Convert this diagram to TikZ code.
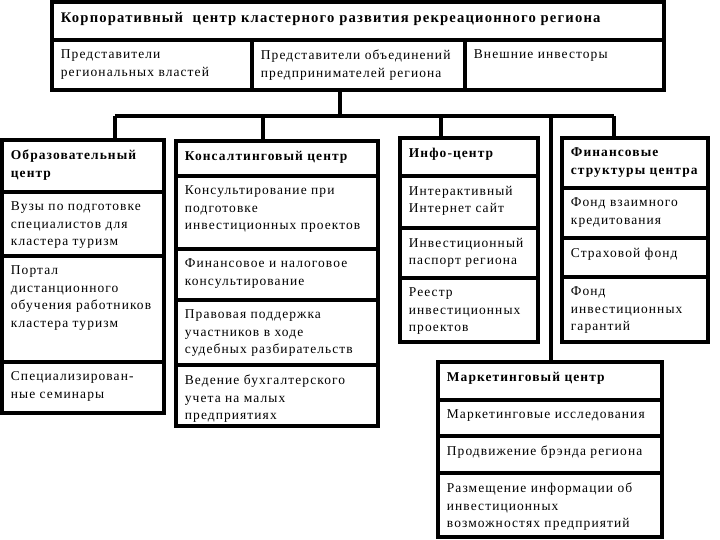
\documentclass[tikz,border=0pt]{standalone}
\usepackage{fontspec}
\setmainfont{Liberation Serif}[LetterSpace=8]
\usetikzlibrary{positioning,calc,fit}

\begin{document}
\begin{tikzpicture}[
  x=0.03cm,y=-0.03cm,
  box/.style={draw,line width=3.2pt,inner sep=0pt},
  txt/.style={anchor=north west,align=left,inner xsep=9pt,inner ysep=10pt,
    font=\fontsize{11.5}{14.9}\selectfont},
  hd/.style={txt,font=\fontsize{11.5}{14.9}\selectfont\bfseries},
  wire/.style={line width=3pt}
]
\useasboundingbox (0,0) rectangle (720,540);

% ---------------- top: corporate centre ----------------
\node[box,fit={(52,2) (664,40)}] (corp) {};
\node[box,fit={(52,40) (252,90)}] (gov) {};
\node[box,fit={(252,40) (465,90)}] (biz) {};
\node[box,fit={(465,40) (664,90)}] (inv) {};

\node[hd,font=\fontsize{12.5}{15}\selectfont\bfseries] (corpT) at (corp.north west)
  {Корпоративный\ \ центр кластерного развития рекреационного региона};
\node[txt] (govT) at (gov.north west) {Представители\\региональных властей};
\node[txt] (bizT) at (biz.north west) {Представители объединений\\предпринимателей региона};
\node[txt] (invT) at (inv.north west) {Внешние инвесторы};

% ---------------- connectors ----------------
\coordinate (root) at (340,116);
\coordinate (tapE) at (115,116);
\coordinate (tapC) at (263,116);
\coordinate (tapI) at (441,116);
\coordinate (tapM) at (551,116);
\coordinate (tapF) at (614,116);

\draw[wire] (root |- biz.south) -- (root);
\draw[wire] (tapE) -- (tapF);

% ---------------- education ----------------
\node[box,fit={(2,140) (164,192)}] (edu) {};
\node[box,fit={(2,192) (164,256)}] (edu1) {};
\node[box,fit={(2,256) (164,362)}] (edu2) {};
\node[box,fit={(2,362) (164,413)}] (edu3) {};

\node[hd] (eduT) at (edu.north west) {Образовательный\\центр};
\node[txt] (edu1T) at (edu1.north west) {Вузы по подготовке\\специалистов для\\кластера туризм};
\node[txt] (edu2T) at (edu2.north west) {Портал\\дистанционного\\обучения работников\\кластера туризм};
\node[txt] (edu3T) at (edu3.north west) {Специализирован-\\ные семинары};

% ---------------- consulting ----------------
\node[box,fit={(176,141) (378,176)}] (cons) {};
\node[box,fit={(176,176) (378,249)}] (cons1) {};
\node[box,fit={(176,249) (378,300)}] (cons2) {};
\node[box,fit={(176,300) (378,365)}] (cons3) {};
\node[box,fit={(176,365) (378,426)}] (cons4) {};

\node[hd] (consT) at (cons.north west) {Консалтинговый центр};
\node[txt] (cons1T) at (cons1.north west) {Консультирование при\\подготовке\\инвестиционных проектов};
\node[txt] (cons2T) at (cons2.north west) {Финансовое и налоговое\\консультирование};
\node[txt] (cons3T) at (cons3.north west) {Правовая поддержка\\участников в ходе\\судебных разбирательств};
\node[txt] (cons4T) at (cons4.north west) {Ведение бухгалтерского\\учета на малых\\предприятиях};

% ---------------- info ----------------
\node[box,fit={(400,138) (538,176)}] (info) {};
\node[box,fit={(400,176) (538,228)}] (info1) {};
\node[box,fit={(400,228) (538,278)}] (info2) {};
\node[box,fit={(400,278) (538,342)}] (info3) {};

\node[hd] (infoT) at (info.north west) {Инфо-центр};
\node[txt] (info1T) at (info1.north west) {Интерактивный\\Интернет сайт};
\node[txt] (info2T) at (info2.north west) {Инвестиционный\\паспорт региона};
\node[txt] (info3T) at (info3.north west) {Реестр\\инвестиционных\\проектов};

% ---------------- finance ----------------
\node[box,fit={(562,138) (708,188)}] (fin) {};
\node[box,fit={(562,188) (708,238)}] (fin1) {};
\node[box,fit={(562,238) (708,277)}] (fin2) {};
\node[box,fit={(562,277) (708,342)}] (fin3) {};

\node[hd] (finT) at (fin.north west) {Финансовые\\структуры центра};
\node[txt] (fin1T) at (fin1.north west) {Фонд взаимного\\кредитования};
\node[txt] (fin2T) at (fin2.north west) {Страховой фонд};
\node[txt] (fin3T) at (fin3.north west) {Фонд\\инвестиционных\\гарантий};

% ---------------- marketing ----------------
\node[box,fit={(438,362) (662,400)}] (mark) {};
\node[box,fit={(438,400) (662,436)}] (mark1) {};
\node[box,fit={(438,436) (662,473)}] (mark2) {};
\node[box,fit={(438,473) (662,537)}] (mark3) {};

\node[hd] (markT) at (mark.north west) {Маркетинговый центр};
\node[txt] (mark1T) at (mark1.north west) {Маркетинговые исследования};
\node[txt] (mark2T) at (mark2.north west) {Продвижение брэнда региона};
\node[txt] (mark3T) at (mark3.north west) {Размещение информации об\\инвестиционных\\возможностях предприятий};

% drops from the bus
\draw[wire] (tapE) -- (tapE |- edu.north);
\draw[wire] (tapC) -- (tapC |- cons.north);
\draw[wire] (tapI) -- (tapI |- info.north);
\draw[wire] (tapM) -- (tapM |- mark.north);
\draw[wire] (tapF) -- (tapF |- fin.north);

\end{tikzpicture}
\end{document}
